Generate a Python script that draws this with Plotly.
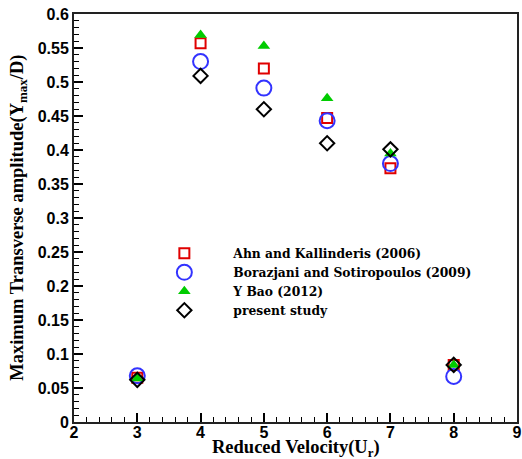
import plotly.graph_objects as go

x_vals = [3, 4, 5, 6, 7, 8]
ahn = [0.065, 0.557, 0.520, 0.447, 0.373, 0.084]
borazjani = [0.068, 0.530, 0.491, 0.443, 0.380, 0.067]
bao = [0.064, 0.569, 0.553, 0.476, 0.395, 0.084]
present = [0.062, 0.509, 0.460, 0.410, 0.401, 0.084]

names = ["Ahn and Kallinderis (2006)", "Borazjani and Sotiropoulos (2009)",
         "Y Bao (2012)", "present study"]
x_title = "Reduced Velocity(U<sub>r</sub>)"
y_title = "Maximum Transverse amplitude(Y<sub>max</sub>/D)"

fig = go.Figure()
fig.add_trace(go.Scatter(x=x_vals, y=ahn, mode="markers", name=names[0],
                         marker=dict(symbol="square-open", size=10, color="#e00000",
                                     line=dict(width=2, color="#e00000"))))
fig.add_trace(go.Scatter(x=x_vals, y=borazjani, mode="markers", name=names[1],
                         marker=dict(symbol="circle-open", size=15, color="#3333ff",
                                     line=dict(width=2, color="#3333ff"))))
fig.add_trace(go.Scatter(x=x_vals, y=bao, mode="markers", name=names[2],
                         marker=dict(symbol="triangle-up", size=11, color="#00cc00",
                                     line=dict(width=0))))
fig.add_trace(go.Scatter(x=x_vals, y=present, mode="markers", name=names[3],
                         marker=dict(symbol="diamond-open", size=11, color="black",
                                     line=dict(width=2, color="black"))))

tickfont = dict(family="Liberation Sans", size=16, color="black", weight="bold")

common = dict(showgrid=False, zeroline=False, automargin=False,
              ticks="inside", ticklen=9, tickwidth=2, tickcolor="black",
              showline=True, linewidth=2, linecolor="#222222", mirror=True,
              tickfont=tickfont, ticklabeloverflow="allow")

fig.update_layout(
    width=522, height=459,
    margin=dict(l=73.5, r=5, t=14, b=37),
    paper_bgcolor="white", plot_bgcolor="white",
    showlegend=True,
    legend=dict(x=0.1385, y=0.449, xanchor="left", yanchor="top",
                bgcolor="rgba(0,0,0,0)", itemwidth=88,
                font=dict(family="DejaVu Serif", size=12.3, color="black", weight="bold"),
                tracegroupgap=0),
    xaxis=dict(range=[2, 9], dtick=1, tick0=2, ticklabelstandoff=-5,
               minor=dict(ticks="inside", ticklen=5, dtick=0.2, tickcolor="black", tickwidth=1),
               **common),
    yaxis=dict(range=[0, 0.6], dtick=0.05, tick0=0,
               minor=dict(ticks="inside", ticklen=5, dtick=0.01, tickcolor="black", tickwidth=1),
               **common),
    annotations=[
        dict(text=x_title, xref="paper", yref="paper", x=0.5, y=-0.064,
             xanchor="center", yanchor="middle", showarrow=False,
             font=dict(family="Liberation Serif", size=18.5, color="black", weight="bold")),
        dict(text=y_title, xref="paper", yref="paper", x=-0.127, y=0.5,
             xanchor="center", yanchor="middle", showarrow=False, textangle=-90,
             font=dict(family="Liberation Serif", size=18.5, color="black", weight="bold")),
    ],
)

fig.write_html("out.html", config={"displayModeBar": False},
               post_script="document.body.style.margin='0';document.body.style.overflow='hidden';")
